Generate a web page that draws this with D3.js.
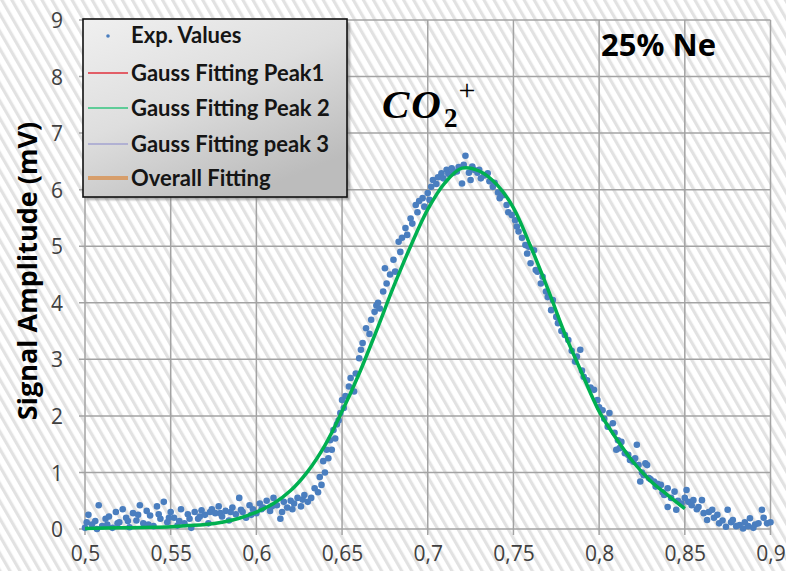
<!DOCTYPE html>
<html><head><meta charset="utf-8">
<script src="https://cdn.jsdelivr.net/npm/d3@7"></script>
<style>html,body{margin:0;padding:0;background:#fff;}svg{display:block;}</style>
</head><body>
<svg id="chart" width="786" height="571"></svg>
<script>
// ---------- DATA ----------
const xTicks = [0.5, 0.55, 0.6, 0.65, 0.7, 0.75, 0.8, 0.85, 0.9];
const xTickLabels = ["0,5","0,55","0,6","0,65","0,7","0,75","0,8","0,85","0,9"];
const yTicks = [0,1,2,3,4,5,6,7,8,9];
const legendLabels = ["Exp. Values","Gauss Fitting Peak1","Gauss Fitting Peak 2","Gauss Fitting peak 3","Overall Fitting"];
const annotation = "25% Ne";

// experimental values [x, signal mV]
const expValues = [
[0.500,0.02],[0.501,0.12],[0.502,0.25],[0.504,0.08],[0.506,0.14],[0.507,0.0],[0.508,0.42],[0.510,0.05],[0.512,0.18],[0.513,0.08],
[0.514,0.22],[0.516,0.02],[0.518,0.3],[0.519,0.1],[0.520,0.12],[0.522,0.35],[0.524,0.2],[0.525,0.14],[0.526,0.03],[0.528,0.28],
[0.530,0.15],[0.531,0.25],[0.532,0.42],[0.534,0.1],[0.536,0.32],[0.537,0.08],[0.538,0.24],[0.540,0.05],[0.542,0.4],[0.543,0.26],
[0.544,0.18],[0.546,0.48],[0.548,0.12],[0.549,0.2],[0.550,0.3],[0.552,0.2],[0.554,0.06],[0.555,0.14],[0.556,0.35],[0.558,0.1],
[0.560,0.26],[0.561,0.18],[0.562,0.02],[0.564,0.3],[0.566,0.18],[0.567,0.22],[0.568,0.33],[0.570,0.25],[0.572,0.1],[0.573,0.3],
[0.574,0.35],[0.576,0.28],[0.578,0.4],[0.579,0.28],[0.580,0.22],[0.582,0.32],[0.584,0.15],[0.585,0.3],[0.586,0.38],[0.588,0.26],
[0.590,0.55],[0.591,0.34],[0.592,0.3],[0.594,0.2],[0.596,0.42],[0.597,0.25],[0.598,0.35],[0.600,0.28],
[0.602,0.45],[0.603,0.35],[0.604,0.38],[0.606,0.5],[0.608,0.32],[0.609,0.4],[0.610,0.55],[0.612,0.42],[0.614,0.18],[0.615,0.3],
[0.616,0.48],[0.618,0.38],[0.620,0.5],[0.621,0.35],[0.622,0.45],[0.624,0.55],[0.626,0.4],[0.627,0.52],[0.628,0.6],[0.630,0.48],
[0.632,0.55],[0.634,0.72],[0.636,0.65],[0.637,0.92],[0.638,0.78],[0.639,1.2],[0.640,1.0],[0.641,1.4],[0.642,1.25],[0.643,1.57],
[0.644,1.4],[0.645,1.75],[0.646,1.6],[0.647,1.85],[0.648,1.92],[0.649,2.05],[0.650,2.28],[0.651,2.14],
[0.652,2.35],[0.654,2.52],[0.655,2.67],[0.657,2.43],[0.658,2.75],[0.660,3.02],[0.661,3.17],[0.662,3.29],[0.664,3.55],[0.666,3.45],
[0.667,3.7],[0.669,3.84],[0.670,3.95],[0.671,4.0],[0.672,3.9],[0.674,4.2],[0.675,4.61],[0.676,4.34],[0.678,4.5],[0.680,4.76],
[0.681,4.55],[0.683,5.08],[0.684,4.9],[0.685,5.15],[0.687,5.32],[0.688,5.2],[0.690,5.49],[0.691,5.4],[0.693,5.73],[0.694,5.6],
[0.695,5.8],[0.697,5.85],[0.698,5.7],[0.700,5.94],[0.701,5.82],
[0.702,6.05],[0.703,6.17],[0.705,6.1],[0.706,6.22],[0.708,6.29],[0.709,6.2],[0.711,6.35],[0.712,6.28],[0.714,6.38],[0.715,6.3],
[0.717,6.32],[0.718,6.4],[0.720,6.11],[0.721,6.44],[0.722,6.6],[0.724,6.3],[0.725,6.17],[0.726,6.41],[0.727,6.35],[0.729,6.3],
[0.730,6.35],[0.731,6.2],[0.733,6.25],[0.735,6.29],[0.736,6.15],[0.738,6.05],[0.739,6.12],[0.741,5.95],[0.742,5.85],[0.744,5.9],
[0.746,5.73],[0.747,5.6],[0.749,5.55],[0.751,5.46],
[0.752,5.35],[0.753,5.26],[0.755,5.15],[0.757,5.02],[0.758,4.87],[0.759,4.99],[0.760,4.7],[0.762,4.93],[0.763,4.58],[0.764,4.55],
[0.766,4.34],[0.767,4.46],[0.769,4.2],[0.770,4.1],[0.772,3.87],[0.773,4.05],[0.775,3.75],[0.776,3.64],[0.778,3.5],[0.780,3.43],
[0.782,3.34],[0.784,3.15],[0.786,2.96],[0.787,3.05],[0.789,3.17],[0.790,2.8],[0.791,2.69],[0.793,2.63],[0.795,2.5],[0.797,2.46],
[0.799,2.28],[0.800,2.15],
[0.802,2.1],[0.803,1.95],[0.805,1.81],[0.806,2.05],[0.808,1.87],[0.809,1.7],[0.810,1.4],[0.811,1.57],[0.812,1.43],[0.813,1.54],
[0.815,1.34],[0.817,1.31],[0.818,1.22],[0.820,1.19],[0.821,1.25],[0.822,1.49],[0.823,1.13],[0.824,0.84],[0.825,1.0],[0.826,0.95],
[0.827,1.16],[0.828,1.13],[0.829,0.9],[0.830,0.88],[0.832,0.84],[0.833,0.75],[0.834,0.8],[0.836,0.78],[0.837,0.65],[0.838,0.6],
[0.840,0.72],[0.840,0.39],[0.842,0.55],[0.844,0.66],[0.845,0.34],[0.846,0.5],[0.848,0.45],[0.850,0.55],[0.851,0.69],[0.852,0.48],
[0.854,0.42],[0.855,0.51],[0.857,0.35],[0.858,0.39],[0.860,0.51],[0.861,0.28],[0.863,0.16],[0.864,0.3],[0.866,0.34],[0.867,0.2],
[0.869,0.25],[0.870,0.1],[0.872,0.15],[0.874,0.04],[0.875,0.34],[0.877,0.12],[0.878,0.16],[0.880,0.05],[0.882,0.07],[0.884,0.01],
[0.885,0.12],[0.887,0.05],[0.888,0.19],[0.890,0.02],[0.891,0.08],[0.893,0.1],[0.895,0.34],[0.896,0.2],[0.898,0.1],[0.900,0.12]
];

// Gauss fitting peak 2
const gaussPeak2 = [
[0.50,0.01],[0.52,0.02],[0.54,0.03],[0.55,0.04],[0.56,0.06],[0.57,0.08],[0.58,0.12],[0.59,0.19],[0.60,0.3],
[0.61,0.45],[0.62,0.68],[0.63,1.02],[0.64,1.48],[0.65,2.08],[0.66,2.75],[0.67,3.5],[0.68,4.28],[0.69,5.0],
[0.70,5.65],[0.71,6.12],[0.72,6.38],[0.73,6.33],[0.74,6.1],[0.75,5.68],[0.76,5.0],[0.77,4.25],[0.78,3.45],
[0.79,2.75],[0.80,2.08],[0.81,1.6],[0.82,1.18],[0.83,0.85],[0.84,0.6],[0.85,0.36]
];

// ---------- CHART ----------
const svg = d3.select("#chart");
const W = 786, H = 571;
const x = d3.scaleLinear().domain([0.5, 0.9]).range([85, 770.5]);
const y = d3.scaleLinear().domain([0, 9]).range([529, 20]);

const defs = svg.append("defs");
const pat = defs.append("pattern").attr("id","hatch").attr("patternUnits","userSpaceOnUse")
  .attr("width",8.7).attr("height",20).attr("patternTransform","rotate(-30)");
pat.append("rect").attr("width",8.7).attr("height",20).attr("fill","#ffffff");
pat.append("rect").attr("x",0).attr("width",3.2).attr("height",20).attr("fill","#e2e2e2");

const lg = defs.append("linearGradient").attr("id","lgGrad").attr("x1","0").attr("y1","0").attr("x2","0.6").attr("y2","1");
lg.append("stop").attr("offset","0").attr("stop-color","#f0f0f0");
lg.append("stop").attr("offset","0.5").attr("stop-color","#dedede");
lg.append("stop").attr("offset","1").attr("stop-color","#bcbcbc");

const blur = defs.append("filter").attr("id","soft").attr("x","-20%").attr("y","-50%").attr("width","140%").attr("height","200%");
blur.append("feGaussianBlur").attr("stdDeviation",0.8);

svg.append("rect").attr("width",W).attr("height",H).attr("fill","url(#hatch)");

const gridColor = "#a3a3a3";
svg.append("g").selectAll("line").data(yTicks).join("line")
  .attr("x1", x(0.5)-6).attr("x2", x(0.9)).attr("y1", d=>y(d)).attr("y2", d=>y(d))
  .attr("stroke", gridColor).attr("stroke-width",1.5);
svg.append("g").selectAll("line").data(xTicks).join("line")
  .attr("x1", d=>x(d)).attr("x2", d=>x(d)).attr("y1", y(9)).attr("y2", y(0)+6)
  .attr("stroke", gridColor).attr("stroke-width",1.5);

const yAxis = svg.append("g").attr("transform",`translate(${x(0.5)-19},0)`)
  .call(d3.axisLeft(y).tickValues(yTicks).tickSize(0).tickFormat(d3.format("d")));
yAxis.select(".domain").remove();
yAxis.selectAll("text").attr("font-family","'Open Sans', sans-serif").attr("font-size",21)
  .attr("fill","#404040").attr("dy","0.36em");

const xAxis = svg.append("g").attr("transform",`translate(0,${y(0)+13})`)
  .call(d3.axisBottom(x).tickValues(xTicks).tickSize(0).tickFormat((d,i)=>xTickLabels[i]));
xAxis.select(".domain").remove();
xAxis.selectAll("text").attr("font-family","'Open Sans', sans-serif").attr("font-size",21)
  .attr("fill","#404040").attr("dy","0.75em");

svg.append("text").attr("transform",`translate(37,${271}) rotate(-90)`)
  .attr("text-anchor","middle").attr("font-family","'Open Sans', sans-serif").attr("font-weight","bold")
  .attr("font-size",27).attr("fill","#000").text("Signal Amplitude (mV)");

svg.append("g").selectAll("circle").data(expValues).join("circle")
  .attr("cx", d=>x(d[0])).attr("cy", d=>y(d[1])).attr("r",3.3).attr("fill","#4a7ebf");

const line = d3.line().x(d=>x(d[0])).y(d=>y(d[1])).curve(d3.curveCatmullRom.alpha(0.5));
svg.append("path").datum(gaussPeak2).attr("d",line).attr("fill","none")
  .attr("stroke","#00b050").attr("stroke-width",3.5);

// legend
const L = {x:83, y:19, w:264, h:178};
svg.append("rect").attr("x",L.x+3).attr("y",L.y+3).attr("width",L.w).attr("height",L.h)
  .attr("fill","#777").attr("opacity",0.6).attr("filter","url(#soft)");
svg.append("rect").attr("x",L.x).attr("y",L.y).attr("width",L.w).attr("height",L.h)
  .attr("fill","url(#lgGrad)").attr("stroke","#111").attr("stroke-width",1.6);
const rowY = [35,73,108,144,178];
const legendStyles = [
  {type:"dot", color:"#4a7ebf"},
  {type:"line", color:"#e0303c", w:1.6},
  {type:"line", color:"#33c47f", w:1.6},
  {type:"line", color:"#a3a3d0", w:1.3},
  {type:"line", color:"#d9965a", w:4}
];
const lgG = svg.append("g");
legendLabels.forEach((lab,i)=>{
  const s = legendStyles[i];
  if (s.type==="dot") {
    lgG.append("circle").attr("cx",108).attr("cy",rowY[i]+1).attr("r",1.8).attr("fill",s.color);
  } else {
    lgG.append("line").attr("x1",88).attr("x2",128).attr("y1",rowY[i]).attr("y2",rowY[i])
      .attr("stroke",s.color).attr("stroke-width",s.w).attr("opacity", i===4?0.85:1);
  }
  lgG.append("text").attr("x",131).attr("y",rowY[i]).attr("dy","0.36em")
    .attr("font-family","Lato, 'Open Sans', sans-serif").attr("font-weight","bold")
    .attr("font-size",22).attr("fill","#151515").text(lab);
});

svg.append("text").attr("x",601).attr("y",56).attr("font-family","'Open Sans', sans-serif")
  .attr("font-weight","bold").attr("font-size",31).attr("fill","#000").text(annotation);

const chem = svg.append("text").attr("x",382).attr("y",118)
  .attr("font-family","'Liberation Serif', 'DejaVu Serif', serif").attr("font-style","italic")
  .attr("font-weight","bold").attr("font-size",41).attr("fill","#000");
chem.append("tspan").text("C");
chem.append("tspan").attr("dx",2).text("O");
chem.append("tspan").attr("dx",3).attr("dy",9).attr("font-size",27).attr("font-style","normal").text("2");
chem.append("tspan").attr("dx",1).attr("dy",-27).attr("font-size",30).attr("font-style","normal").attr("font-weight","normal").text("+");
</script>
</body></html>
